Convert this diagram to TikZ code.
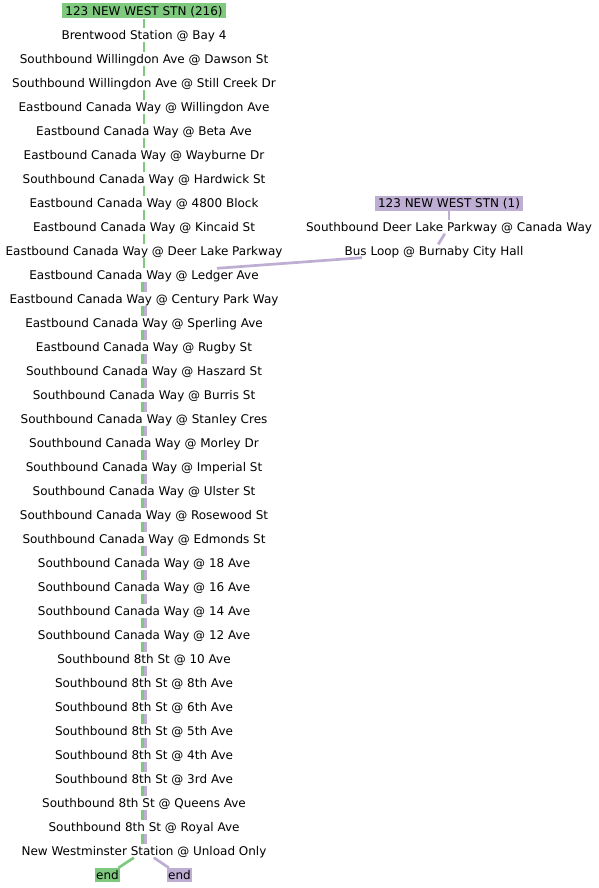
\documentclass[tikz,border=0pt]{standalone}
\usepackage{fontspec}
\setmainfont{DejaVu Sans}
\definecolor{accG}{HTML}{7FC97F}
\definecolor{accP}{HTML}{BEAED4}
\begin{document}
\begin{tikzpicture}[x=1pt,y=-1pt,
  stopnode/.style={inner xsep=2pt, inner ysep=0pt, text height=8.75pt, text depth=0pt, minimum height=13pt, font=\fontsize{12pt}{14pt}\selectfont},
  headnode/.style={stopnode, inner xsep=3pt, minimum height=15pt},
  endnode/.style={stopnode, inner xsep=1.5pt, minimum height=14pt},
  gline/.style={draw=accG, line width=2.7pt},
  pline/.style={draw=accP, line width=2.7pt}]
\useasboundingbox (0,0) rectangle (599,888);
\fill[white] (0,0) rectangle (599,888);
\node[headnode, fill=accG] (L0) at (144,11) {123 NEW WEST STN (216)};
\foreach \t [count=\i] in {
  Brentwood Station @ Bay 4,
  Southbound Willingdon Ave @ Dawson St,
  Southbound Willingdon Ave @ Still Creek Dr,
  Eastbound Canada Way @ Willingdon Ave,
  Eastbound Canada Way @ Beta Ave,
  Eastbound Canada Way @ Wayburne Dr,
  Southbound Canada Way @ Hardwick St,
  Eastbound Canada Way @ 4800 Block,
  Eastbound Canada Way @ Kincaid St,
  Eastbound Canada Way @ Deer Lake Parkway,
  Eastbound Canada Way @ Ledger Ave,
  Eastbound Canada Way @ Century Park Way,
  Eastbound Canada Way @ Sperling Ave,
  Eastbound Canada Way @ Rugby St,
  Southbound Canada Way @ Haszard St,
  Southbound Canada Way @ Burris St,
  Southbound Canada Way @ Stanley Cres,
  Southbound Canada Way @ Morley Dr,
  Southbound Canada Way @ Imperial St,
  Southbound Canada Way @ Ulster St,
  Southbound Canada Way @ Rosewood St,
  Southbound Canada Way @ Edmonds St,
  Southbound Canada Way @ 18 Ave,
  Southbound Canada Way @ 16 Ave,
  Southbound Canada Way @ 14 Ave,
  Southbound Canada Way @ 12 Ave,
  Southbound 8th St @ 10 Ave,
  Southbound 8th St @ 8th Ave,
  Southbound 8th St @ 6th Ave,
  Southbound 8th St @ 5th Ave,
  Southbound 8th St @ 4th Ave,
  Southbound 8th St @ 3rd Ave,
  Southbound 8th St @ Queens Ave,
  Southbound 8th St @ Royal Ave,
  New Westminster Station @ Unload Only}
  \node[stopnode] (L\i) at (144,{11+24*\i}) {\t};
\node[headnode, fill=accP] (R0) at (449,203) {123 NEW WEST STN (1)};
\node[stopnode] (R1) at (449,227) {Southbound Deer Lake Parkway @ Canada Way};
\node[stopnode] (R2) at (434,251) {Bus Loop @ Burnaby City Hall};
\node[endnode, fill=accG] (EG) at (107.5,875) {end};
\node[endnode, fill=accP] (EP) at (179.5,875) {end};
\foreach \i in {0,...,10} {
  \pgfmathtruncatemacro\j{\i+1}
  \draw[gline] (L\i) -- (L\j);
}
\foreach \i in {11,...,34} {
  \pgfmathtruncatemacro\j{\i+1}
  \draw[gline, transform canvas={xshift=-1.4pt}] (L\i) -- (L\j);
  \draw[pline, transform canvas={xshift=1.4pt}] (L\i) -- (L\j);
}
\draw[pline] (R0) -- (R1);
\draw[pline] (R1) -- (R2);
\draw[pline] ([xshift=-72pt]R2.south) -- ([xshift=73pt]L11.north);
\draw[gline] (L35) -- (EG);
\draw[pline] (L35) -- (EP);
\end{tikzpicture}
\end{document}
